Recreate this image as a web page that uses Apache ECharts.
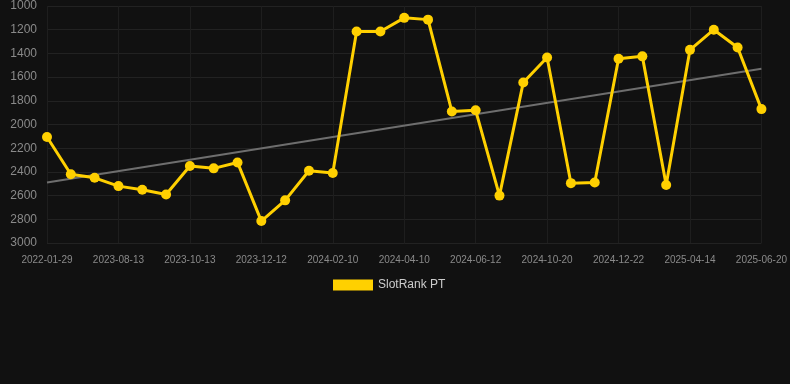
<!DOCTYPE html>
<html>
<head>
<meta charset="utf-8">
<script src="https://cdn.jsdelivr.net/npm/echarts@6/dist/echarts.min.js"></script>
<style>
  html, body { margin: 0; padding: 0; background: #111111; }
  #chart { width: 790px; height: 384px; }
</style>
</head>
<body>
<div id="chart"></div>
<script>
const dates = [
  '2022-01-29', '2023-06-14', '2023-07-14', '2023-08-13', '2023-09-02', '2023-09-23',
  '2023-10-13', '2023-11-02', '2023-11-22', '2023-12-12', '2024-01-01', '2024-01-21',
  '2024-02-10', '2024-03-01', '2024-03-21', '2024-04-10', '2024-05-01', '2024-05-22',
  '2024-06-12', '2024-08-03', '2024-09-10', '2024-10-20', '2024-11-10', '2024-12-01',
  '2024-12-22', '2025-01-30', '2025-03-05', '2025-04-14', '2025-05-06', '2025-05-28',
  '2025-06-20'
]
const rank = [
  2105, 2420, 2450, 2520, 2550, 2590, 2350, 2370, 2320, 2815, 2640, 2390,
  2410, 1215, 1215, 1100, 1115, 1890, 1880, 2600, 1645, 1435, 2495, 2490,
  1445, 1425, 2510, 1370, 1200, 1350, 1870
]
// trend line end points (first and last category)
const trendStart = 2490
const trendEnd = 1530

const chart = echarts.init(document.getElementById('chart'))

chart.setOption({
  backgroundColor: '#111111',
  animation: false,
  textStyle: { fontFamily: 'Arial, "Liberation Sans", sans-serif' },
  legend: {
    data: ['SlotRank PT'],
    top: 274,
    left: 328,
    itemWidth: 40,
    itemHeight: 11,
    itemGap: 10,
    icon: 'rect',
    textStyle: { color: '#cccccc', fontSize: 12 },
  },
  grid: { left: 47, right: 28, top: 5, bottom: 141 },
  xAxis: {
    type: 'category',
    data: dates,
    boundaryGap: false,
    axisLine: { show: false },
    axisTick: { show: false },
    axisLabel: { color: '#8a8a8a', fontSize: 10, margin: 12, interval: 2 },
    splitLine: { show: true, interval: 2, lineStyle: { color: '#1e1e1e' } },
  },
  yAxis: {
    type: 'value',
    inverse: true,
    min: 1000,
    max: 3000,
    interval: 200,
    axisLine: { show: false },
    axisTick: { show: false },
    axisLabel: { color: '#8a8a8a', fontSize: 12, margin: 10, formatter: (v) => String(v) },
    splitLine: { lineStyle: { color: '#222222' } },
  },
  series: [
    {
      name: 'Trend',
      type: 'line',
      data: [[0, trendStart], [dates.length - 1, trendEnd]],
      showSymbol: false,
      lineStyle: { color: '#6e6e6e', width: 2 },
      itemStyle: { color: '#6e6e6e' },
      z: 1,
    },
    {
      name: 'SlotRank PT',
      type: 'line',
      data: rank,
      symbol: 'circle',
      symbolSize: 10,
      lineStyle: { color: '#ffd000', width: 3 },
      itemStyle: { color: '#ffd000' },
      z: 2,
    },
  ],
})
</script>
</body>
</html>
